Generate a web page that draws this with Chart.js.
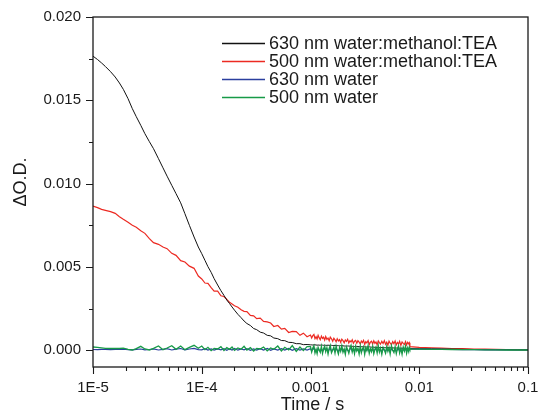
<!DOCTYPE html>
<html>
<head>
<meta charset="utf-8">
<script src="https://cdn.jsdelivr.net/npm/chart.js@4.4.1/dist/chart.umd.min.js"></script>
<style>
  html, body { margin: 0; padding: 0; background: #fff; }
  canvas { display: block; }
</style>
</head>
<body>
<canvas id="tasChart" width="539" height="420"></canvas>
<script>
// time axis (s), shared by all four traces
const TIME = [
    1.0e-5, 1.1e-5, 1.2e-5, 1.3e-5, 1.45e-5, 1.6e-5, 1.75e-5, 1.9e-5, 2.1e-5, 2.3e-5, 2.5e-5, 2.75e-5, 3.0e-5,
    3.3e-5, 3.6e-5, 4.0e-5, 4.4e-5, 4.8e-5, 5.3e-5, 5.8e-5, 6.4e-5, 7.0e-5, 7.7e-5, 8.5e-5, 9.3e-5,
    1.0e-4, 1.07e-4, 1.14e-4, 1.22e-4, 1.3e-4, 1.4e-4, 1.5e-4, 1.6e-4, 1.7e-4, 1.8e-4, 1.9e-4,
    2.0e-4, 2.15e-4, 2.3e-4, 2.45e-4, 2.6e-4, 2.8e-4, 3.0e-4, 3.2e-4, 3.45e-4, 3.7e-4, 4.0e-4,
    4.3e-4, 4.6e-4, 5.0e-4, 5.4e-4, 5.8e-4, 6.3e-4, 6.8e-4, 7.4e-4, 8.0e-4, 8.6e-4, 9.3e-4,
    1.0e-3, 1.025e-3, 1.05e-3, 1.075e-3, 1.1e-3, 1.125e-3, 1.15e-3, 1.175e-3, 1.2e-3, 1.23e-3, 1.26e-3,
    1.29e-3, 1.32e-3, 1.35e-3, 1.38e-3, 1.415e-3, 1.45e-3, 1.485e-3, 1.52e-3, 1.56e-3, 1.6e-3, 1.64e-3,
    1.68e-3, 1.72e-3, 1.76e-3, 1.805e-3, 1.85e-3, 1.895e-3, 1.94e-3, 1.99e-3, 2.04e-3, 2.09e-3, 2.14e-3,
    2.195e-3, 2.25e-3, 2.305e-3, 2.36e-3, 2.42e-3, 2.48e-3, 2.54e-3, 2.6e-3, 2.665e-3, 2.73e-3, 2.8e-3,
    2.87e-3, 2.935e-3, 3.0e-3, 3.075e-3, 3.15e-3, 3.225e-3, 3.3e-3, 3.385e-3, 3.47e-3, 3.555e-3, 3.64e-3,
    3.73e-3, 3.82e-3, 3.91e-3, 4.0e-3, 4.1e-3, 4.2e-3, 4.3e-3, 4.4e-3, 4.525e-3, 4.65e-3, 4.775e-3,
    4.9e-3, 5.025e-3, 5.15e-3, 5.275e-3, 5.4e-3, 5.55e-3, 5.7e-3, 5.85e-3, 6.0e-3, 6.15e-3, 6.3e-3,
    6.45e-3, 6.6e-3, 6.775e-3, 6.95e-3, 7.125e-3, 7.3e-3, 7.475e-3, 7.65e-3, 7.825e-3, 8.0e-3, 8.1e-3,
    8.2e-3, 0.01, 0.013, 0.016, 0.02, 0.025, 0.032, 0.04, 0.05, 0.063, 0.08, 0.1
];

// 630 nm water:methanol:TEA
const OD_630_MIX = [
    0.01765, 0.01745, 0.01724, 0.01703, 0.01672, 0.01640, 0.01604, 0.01566, 0.01510, 0.01450, 0.01402, 0.01350, 0.01300,
    0.01252, 0.01210, 0.01150, 0.01095, 0.01045, 0.00990, 0.00940, 0.00885, 0.00820, 0.00750, 0.00680, 0.00620,
    0.00580, 0.00540, 0.00502, 0.00468, 0.00430, 0.00392, 0.00358, 0.00330, 0.00302, 0.00281, 0.00260,
    0.00241, 0.00216, 0.00196, 0.00176, 0.00161, 0.00149, 0.00131, 0.00124, 0.00109, 0.00104, 0.00090,
    0.00087, 0.00074, 0.00070, 0.00059, 0.00058, 0.00048, 0.00047, 0.00040, 0.00040, 0.00034, 0.00035,
    0.00033, 0.00033, 0.00032, 0.00033, 0.00033, 0.00032, 0.00031, 0.00032, 0.00031, 0.00031, 0.00032,
    0.00031, 0.00030, 0.00031, 0.00030, 0.00030, 0.00031, 0.00030, 0.00029, 0.00030, 0.00029, 0.00029,
    0.00030, 0.00029, 0.00028, 0.00028, 0.00027, 0.00028, 0.00028, 0.00027, 0.00026, 0.00026, 0.00025,
    0.00026, 0.00026, 0.00025, 0.00024, 0.00024, 0.00024, 0.00023, 0.00023, 0.00024, 0.00023, 0.00022,
    0.00022, 0.00022, 0.00022, 0.00021, 0.00021, 0.00020, 0.00020, 0.00021, 0.00021, 0.00020, 0.00019,
    0.00019, 0.00019, 0.00018, 0.00018, 0.00018, 0.00018, 0.00017, 0.00017, 0.00017, 0.00017, 0.00016,
    0.00016, 0.00016, 0.00016, 0.00015, 0.00015, 0.00015, 0.00015, 0.00014, 0.00014, 0.00014, 0.00014,
    0.00013, 0.00013, 0.00013, 0.00013, 0.00012, 0.00012, 0.00012, 0.00012, 0.00012, 0.00012, 0.00011,
    0.00011, 0.00010, 0.00009, 0.00008, 0.00007, 0.00006, 0.00005, 0.00005, 0.00004, 0.00004, 0.00003, 0.00003
];

// 500 nm water:methanol:TEA
const OD_500_MIX = [
    0.00865, 0.00856, 0.00846, 0.00840, 0.00832, 0.00822, 0.00802, 0.00786, 0.00768, 0.00750, 0.00738, 0.00718, 0.00702,
    0.00670, 0.00646, 0.00636, 0.00620, 0.00610, 0.00582, 0.00570, 0.00538, 0.00530, 0.00505, 0.00492, 0.00446,
    0.00428, 0.00404, 0.00402, 0.00376, 0.00355, 0.00355, 0.00327, 0.00323, 0.00306, 0.00288, 0.00278,
    0.00267, 0.00259, 0.00243, 0.00234, 0.00232, 0.00210, 0.00207, 0.00190, 0.00193, 0.00174, 0.00171,
    0.00164, 0.00143, 0.00149, 0.00127, 0.00132, 0.00107, 0.00114, 0.00112, 0.00090, 0.00103, 0.00082,
    0.00092, 0.00074, 0.00088, 0.00095, 0.00070, 0.00082, 0.00068, 0.00090, 0.00076, 0.00064, 0.00085,
    0.00071, 0.00079, 0.00062, 0.00083, 0.00066, 0.00074, 0.00058, 0.00079, 0.00069, 0.00055, 0.00073,
    0.00063, 0.00051, 0.00070, 0.00056, 0.00064, 0.00048, 0.00067, 0.00058, 0.00045, 0.00062, 0.00053,
    0.00066, 0.00044, 0.00057, 0.00050, 0.00063, 0.00042, 0.00055, 0.00060, 0.00043, 0.00058, 0.00049,
    0.00038, 0.00056, 0.00047, 0.00060, 0.00036, 0.00052, 0.00044, 0.00058, 0.00035, 0.00049, 0.00055,
    0.00039, 0.00057, 0.00042, 0.00050, 0.00034, 0.00056, 0.00046, 0.00037, 0.00054, 0.00041, 0.00058,
    0.00036, 0.00049, 0.00031, 0.00055, 0.00043, 0.00034, 0.00052, 0.00040, 0.00056, 0.00033, 0.00047,
    0.00038, 0.00054, 0.00030, 0.00050, 0.00042, 0.00035, 0.00053, 0.00032, 0.00048, 0.00039, 0.00045,
    0.00022, 0.00018, 0.00015, 0.00013, 0.00011, 0.00010, 0.00008, 0.00007, 0.00006, 0.00005, 0.00004, 0.00003
];

// 630 nm water
const OD_630_WATER = [
    0.00005, 0.00004, 0.00006, 0.00005, 0.00004, 0.00006, 0.00005, 0.00007, 0.00004, 0.00003, 0.00006, 0.00008, 0.00003,
    0.00005, 0.00009, 0.00002, 0.00006, 0.00010, 0.00002, 0.00007, 0.00011, 0.00003, 0.00008, 0.00012, 0.00004,
    0.00003, 0.00010, 0.00002, 0.00009, 0.00001, 0.00008, 0.00003, 0.00010, 0.00000, 0.00009, 0.00002,
    0.00011, 0.00001, 0.00008, 0.00003, 0.00010, 0.00000, 0.00009, 0.00002, 0.00010, 0.00001, 0.00011,
    0.00000, 0.00009, 0.00002, 0.00010, 0.00001, 0.00011, 0.00000, 0.00010, 0.00002, 0.00009, 0.00001,
    0.00010, -0.00003, 0.00007, 0.00012, -0.00006, 0.00004, -0.00008, 0.00009, 0.00001, -0.00005, 0.00011,
    -0.00007, 0.00005, 0.00012, -0.00002, 0.00008, -0.00009, 0.00006, 0.00013, -0.00005, 0.00002, 0.00009,
    -0.00006, 0.00011, 0.00001, -0.00009, 0.00008, -0.00002, 0.00012, -0.00005, 0.00004, -0.00010, 0.00010,
    0.00002, -0.00007, 0.00007, 0.00013, -0.00004, 0.00008, -0.00008, 0.00011, -0.00001, 0.00006, -0.00009,
    0.00011, -0.00005, 0.00004, 0.00010, -0.00010, 0.00008, 0.00000, 0.00012, -0.00007, 0.00005, -0.00003,
    0.00010, -0.00008, 0.00003, 0.00009, -0.00006, 0.00012, -0.00004, 0.00007, -0.00010, 0.00008, 0.00001,
    -0.00007, 0.00010, -0.00002, 0.00008, -0.00009, 0.00012, 0.00000, -0.00005, 0.00010, -0.00008, 0.00005,
    0.00011, -0.00006, 0.00006, -0.00010, 0.00009, -0.00001, 0.00011, -0.00007, 0.00007, -0.00003, 0.00008,
    0.00008, 0.00007, 0.00006, 0.00006, 0.00005, 0.00004, 0.00004, 0.00003, 0.00003, 0.00002, 0.00002, 0.00002
];

// 500 nm water
const OD_500_WATER = [
    0.00020, 0.00018, 0.00015, 0.00012, 0.00011, 0.00012, 0.00011, 0.00013, 0.00006, 0.00002, 0.00010, 0.00024, 0.00008,
    0.00002, 0.00012, 0.00026, 0.00004, 0.00014, 0.00028, 0.00006, 0.00026, 0.00004, 0.00018, 0.00030, 0.00012,
    0.00026, 0.00004, 0.00018, -0.00002, 0.00012, 0.00008, 0.00022, -0.00001, 0.00016, 0.00006, 0.00020,
    0.00000, 0.00014, 0.00006, 0.00024, 0.00002, 0.00016, -0.00004, 0.00012, 0.00008, 0.00020, -0.00003,
    0.00014, 0.00006, 0.00026, -0.00004, 0.00018, 0.00002, 0.00028, -0.00006, 0.00020, -0.00002, 0.00022,
    0.00022, -0.00010, 0.00014, 0.00028, -0.00016, 0.00006, -0.00020, 0.00018, 0.00004, -0.00012, 0.00024,
    -0.00018, 0.00010, 0.00026, -0.00008, 0.00016, -0.00022, 0.00012, 0.00030, -0.00014, 0.00002, 0.00020,
    -0.00016, 0.00026, 0.00000, -0.00022, 0.00018, -0.00006, 0.00028, -0.00012, 0.00008, -0.00024, 0.00022,
    0.00004, -0.00018, 0.00014, 0.00030, -0.00010, 0.00016, -0.00020, 0.00024, -0.00004, 0.00012, -0.00022,
    0.00026, -0.00014, 0.00008, 0.00022, -0.00024, 0.00016, -0.00002, 0.00028, -0.00018, 0.00010, -0.00008,
    0.00024, -0.00020, 0.00006, 0.00020, -0.00016, 0.00028, -0.00010, 0.00014, -0.00024, 0.00018, 0.00002,
    -0.00018, 0.00024, -0.00006, 0.00016, -0.00022, 0.00028, 0.00000, -0.00014, 0.00022, -0.00020, 0.00010,
    0.00026, -0.00016, 0.00012, -0.00024, 0.00020, -0.00004, 0.00026, -0.00018, 0.00014, -0.00008, 0.00018,
    0.00008, 0.00007, 0.00006, 0.00006, 0.00005, 0.00004, 0.00004, 0.00003, 0.00003, 0.00002, 0.00002, 0.00002
];

const SERIES_LABELS = ['630 nm water:methanol:TEA', '500 nm water:methanol:TEA', '630 nm water', '500 nm water'];
const X_TICKS = [1e-5, 1e-4, 1e-3, 1e-2, 1e-1];
const X_TICK_LABELS = ['1E-5', '1E-4', '0.001', '0.01', '0.1'];
const Y_TICKS = [0, 0.005, 0.010, 0.015, 0.020];

const COLORS = ['#111111', '#ec2a22', '#2b3f9e', '#179a47'];
const WIDTHS = [1.0, 1.2, 1.2, 1.3];
const FONT = "'Liberation Sans', Arial, sans-serif";

function toPoints(values) {
    return TIME.map((t, i) => ({ x: t, y: values[i] }));
}

// no label overflow padding: the plot box is pinned by layout.padding
function noPad(s) {
    s.paddingLeft = 0;
    s.paddingRight = 0;
    s.paddingTop = 0;
    s.paddingBottom = 0;
}

// frame, outward ticks, axis titles and legend, like the Origin plot
const decorPlugin = {
    id: 'decor',
    afterDraw(chart) {
        const ctx = chart.ctx;
        const area = chart.chartArea;
        const xs = chart.scales.x;
        const ys = chart.scales.y;
        ctx.save();
        ctx.strokeStyle = '#1a1a1a';
        ctx.lineWidth = 1.3;
        ctx.strokeRect(area.left, area.top, area.right - area.left, area.bottom - area.top);

        ctx.lineWidth = 1.1;
        ctx.beginPath();
        // y ticks: majors + halfway minors
        for (let i = 0; i < Y_TICKS.length; i++) {
            const py = Math.round(ys.getPixelForValue(Y_TICKS[i])) + 0.5;
            ctx.moveTo(area.left - 7, py);
            ctx.lineTo(area.left, py);
            if (i < Y_TICKS.length - 1) {
                const pm = Math.round(ys.getPixelForValue((Y_TICKS[i] + Y_TICKS[i + 1]) / 2)) + 0.5;
                ctx.moveTo(area.left - 4, pm);
                ctx.lineTo(area.left, pm);
            }
        }
        // x ticks: decades + 2..9 minors
        for (let i = 0; i < X_TICKS.length; i++) {
            const px = Math.round(xs.getPixelForValue(X_TICKS[i])) + 0.5;
            ctx.moveTo(px, area.bottom);
            ctx.lineTo(px, area.bottom + 7);
            if (i < X_TICKS.length - 1) {
                for (let m = 2; m <= 9; m++) {
                    const pm = Math.round(xs.getPixelForValue(X_TICKS[i] * m)) + 0.5;
                    ctx.moveTo(pm, area.bottom);
                    ctx.lineTo(pm, area.bottom + 4);
                }
            }
        }
        ctx.stroke();

        // axis titles
        ctx.fillStyle = '#1a1a1a';
        ctx.font = '18px ' + FONT;
        ctx.textAlign = 'center';
        ctx.textBaseline = 'middle';
        ctx.fillText('Time / s', (area.left + area.right) / 2 + 2, 405);
        ctx.save();
        ctx.translate(21, 182);
        ctx.rotate(-Math.PI / 2);
        ctx.fillText('\u0394O.D.', 0, 0);
        ctx.restore();

        // legend
        ctx.textAlign = 'left';
        ctx.textBaseline = 'alphabetic';
        chart.data.datasets.forEach((ds, i) => {
            const ly = 43 + i * 18;
            ctx.strokeStyle = ds.borderColor;
            ctx.lineWidth = 1.3;
            ctx.beginPath();
            ctx.moveTo(222, ly + 0.5);
            ctx.lineTo(265, ly + 0.5);
            ctx.stroke();
            ctx.fillStyle = '#1a1a1a';
            ctx.fillText(ds.label, 269, ly + 6);
        });
        ctx.restore();
    }
};

const values = [OD_630_MIX, OD_500_MIX, OD_630_WATER, OD_500_WATER];
const drawOrder = [3, 4, 2, 1]; // green on top, as in the original

new Chart('tasChart', {
    type: 'line',
    data: {
        datasets: values.map((v, i) => ({
            label: SERIES_LABELS[i],
            data: toPoints(v),
            borderColor: COLORS[i],
            borderWidth: WIDTHS[i],
            pointRadius: 0,
            tension: 0,
            fill: false,
            order: drawOrder[i]
        }))
    },
    options: {
        responsive: false,
        animation: false,
        layout: { padding: { top: 17, right: 11, left: 0, bottom: 0 }, autoPadding: false },
        plugins: { legend: { display: false }, tooltip: { enabled: false } },
        scales: {
            x: {
                type: 'logarithmic',
                min: 1e-5,
                max: 0.1,
                afterBuildTicks: s => { s.ticks = X_TICKS.map(v => ({ value: v })); },
                afterFit: s => { s.height = 53; noPad(s); },
                grid: { display: false, drawTicks: false },
                border: { display: false },
                ticks: {
                    autoSkip: false,
                    maxRotation: 0,
                    padding: 12,
                    color: '#1a1a1a',
                    font: { family: FONT, size: 15 },
                    callback: (v, i) => X_TICK_LABELS[i]
                }
            },
            y: {
                type: 'linear',
                min: -0.001,
                max: 0.020,
                afterBuildTicks: s => { s.ticks = Y_TICKS.map(v => ({ value: v })); },
                afterFit: s => { s.width = 93; noPad(s); },
                grid: { display: false, drawTicks: false },
                border: { display: false },
                ticks: {
                    padding: 12,
                    color: '#1a1a1a',
                    font: { family: FONT, size: 15 },
                    callback: v => v.toFixed(3)
                }
            }
        }
    },
    plugins: [decorPlugin]
});
</script>
</body>
</html>
